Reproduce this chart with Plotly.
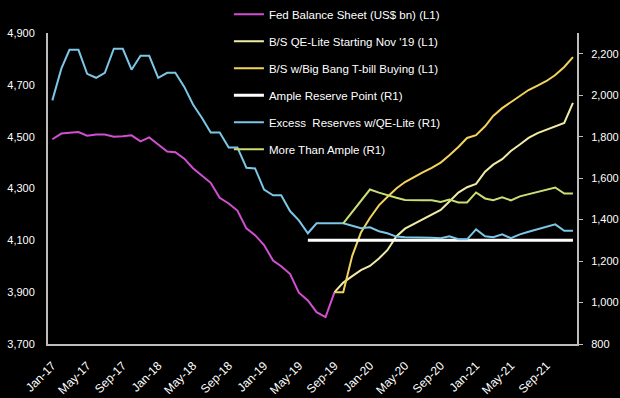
import pandas as pd
import plotly.graph_objects as go

months = pd.date_range("2017-01-01", "2021-12-01", freq="MS")
N = len(months)

def pad(start, vals):
    out = [None] * start + list(vals)
    return out + [None] * (N - len(out))

fed_bs_vals = [4490, 4512, 4515, 4518, 4504, 4508, 4508, 4500, 4502, 4505, 4482, 4497,
               4470, 4443, 4440, 4415, 4378, 4350, 4322, 4264, 4242, 4215, 4146, 4120,
               4082, 4022, 4000, 3970, 3898, 3868, 3823, 3804, 3900]
qe_lite_vals = [3900, 3937, 3962, 3985, 4001, 4030, 4062, 4115, 4145, 4163, 4180, 4197,
                4217, 4250, 4284, 4305, 4318, 4365, 4392, 4413, 4445, 4470, 4495, 4514,
                4527, 4540, 4553, 4630]
big_bang_vals = [3900, 3900, 4040, 4130, 4186, 4235, 4267, 4300, 4325, 4345, 4362, 4380,
                 4400, 4428, 4460, 4495, 4506, 4540, 4580, 4610, 4634, 4658, 4680, 4697,
                 4715, 4738, 4769, 4807]
ample_vals = [1300] * 31
excess_vals = [1975, 2128, 2219, 2219, 2103, 2084, 2108, 2224, 2224, 2123, 2190, 2190,
               2084, 2108, 2108, 2040, 1955, 1890, 1820, 1820, 1748, 1748, 1650, 1647,
               1545, 1517, 1517, 1440, 1396, 1334, 1382, 1382, 1382, 1382, 1370, 1358,
               1363, 1344, 1334, 1318, 1315, 1315, 1315, 1313, 1310, 1320, 1305, 1305,
               1353, 1320, 1315, 1329, 1310, 1329, 1341, 1353, 1365, 1377, 1346, 1346]
more_ample_vals = [1382, 1436, 1490, 1545, 1530, 1517, 1505, 1495, 1493, 1493, 1493,
                   1485, 1497, 1483, 1483, 1531, 1502, 1493, 1507, 1493, 1512, 1523,
                   1534, 1545, 1555, 1526, 1526]

left_ticks = [3700, 3900, 4100, 4300, 4500, 4700, 4900]
right_ticks = [800, 1000, 1200, 1400, 1600, 1800, 2000, 2200]
x_ticks = pd.date_range("2017-01-01", "2021-09-01", freq="4MS")

FONT = "Liberation Sans Narrow, Arial Narrow, Liberation Sans, sans-serif"
FS = 11

series = [
    ("Fed Balance Sheet (US$ bn) (L1)", pad(0, fed_bs_vals), "#d24fd2", "y", 2),
    ("B/S QE-Lite Starting Nov '19 (L1)", pad(32, qe_lite_vals), "#f0eca6", "y", 2),
    ("B/S w/Big Bang T-bill Buying (L1)", pad(32, big_bang_vals), "#f2d35c", "y", 2),
    ("Ample Reserve Point (R1)", pad(29, ample_vals), "#ffffff", "y2", 3),
    ("Excess\u00a0 Reserves w/QE-Lite (R1)", pad(0, excess_vals), "#7cc6e6", "y2", 2),
    ("More Than Ample (R1)", pad(33, more_ample_vals), "#c9df74", "y2", 2),
]

fig = go.Figure()
for i, (name, vals, color, ax, w) in enumerate(series):
    fig.add_trace(go.Scatter(
        x=months, y=vals, name=name, mode="lines", yaxis=ax,
        line=dict(color=color, width=w), legendgroup=f"g{i}",
        connectgaps=False,
    ))

fig.update_layout(
    width=620, height=398,
    paper_bgcolor="black", plot_bgcolor="black",
    margin=dict(l=48, r=43, t=33, b=54, autoexpand=False),
    font=dict(family=FONT, size=FS, color="white"),
    showlegend=True,
    legend=dict(
        x=0.342, xanchor="left", y=1.107, yanchor="top",
        bgcolor="rgba(0,0,0,0)", font=dict(size=11.5, color="white"),
        tracegroupgap=8, itemwidth=30,
    ),
    xaxis=dict(
        type="date", range=["2016-12-17", "2021-12-15"], automargin=False,
        tickvals=list(x_ticks), tickformat="%b-%y", tickangle=-45,
        showgrid=False, zeroline=False, showline=True, linecolor="#bdbdbd", linewidth=2,
        ticks="", ticklabelstandoff=8, tickfont=dict(size=12, color="white"),
    ),
    yaxis=dict(
        range=[3700, 4900], tickvals=left_ticks, tickformat=",", automargin=False,
        showgrid=False, zeroline=False, showline=True, linecolor="#bdbdbd", linewidth=2,
        ticks="", ticklabelstandoff=9, tickfont=dict(size=FS, color="white"),
    ),
    yaxis2=dict(
        range=[800, 2300], tickvals=right_ticks, tickformat=",", automargin=False,
        overlaying="y", side="right",
        showgrid=False, zeroline=False, showline=True, linecolor="#bdbdbd", linewidth=2,
        ticks="outside", ticklen=4, tickcolor="#bdbdbd", ticklabelstandoff=6,
        tickfont=dict(size=FS, color="white"),
    ),
)

fig.write_html(
    "out.html",
    config={"displayModeBar": False},
    post_script="document.body.style.margin='0';document.body.style.background='black';",
)
